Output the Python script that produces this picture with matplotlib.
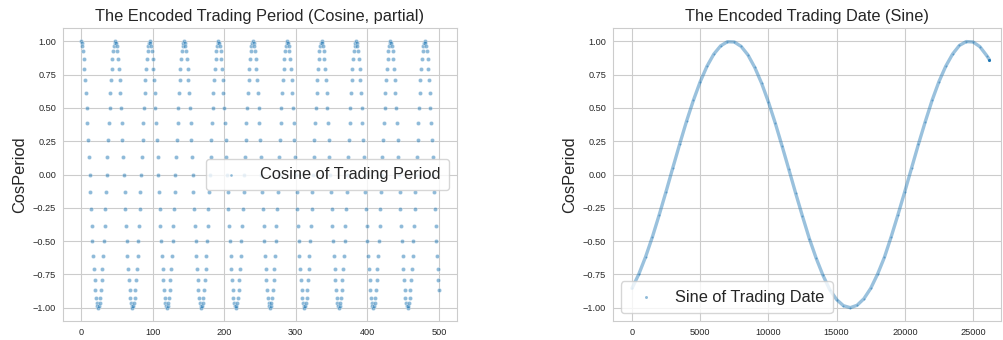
import matplotlib
matplotlib.use('Agg')
import matplotlib.pyplot as plt
import seaborn as sns

# cosine value for each trading period 1..48 (levels)
cosPeriodLevels = [0.991, 0.966, 0.924, 0.866, 0.793, 0.707, 0.609, 0.500,
                   0.383, 0.259, 0.131, 0.000, -0.131, -0.259, -0.383, -0.500,
                   -0.609, -0.707, -0.793, -0.866, -0.924, -0.966, -0.991, -1.000,
                   -0.991, -0.966, -0.924, -0.866, -0.793, -0.707, -0.609, -0.500,
                   -0.383, -0.259, -0.131, 0.000, 0.131, 0.259, 0.383, 0.500,
                   0.609, 0.707, 0.793, 0.866, 0.924, 0.966, 0.991, 1.000]
nRowsPartial = 501

# sine of trading date, read along the curve of the right panel
dateIndex = [0, 500, 1000, 1500, 2000, 2500, 3000, 3500, 4000, 4500, 5000, 5500,
             6000, 6500, 7000, 7500, 8000, 8500, 9000, 9500, 10000, 10500, 11000,
             11500, 12000, 12500, 13000, 13500, 14000, 14500, 15000, 15500, 16000,
             16500, 17000, 17500, 18000, 18500, 19000, 19500, 20000, 20500, 21000,
             21500, 22000, 22500, 23000, 23500, 24000, 24500, 25000, 25500, 26000, 26200]
sinDate = [-0.855, -0.749, -0.618, -0.468, -0.302, -0.128, 0.052, 0.229, 0.400,
           0.556, 0.696, 0.813, 0.904, 0.966, 0.997, 0.995, 0.962, 0.898, 0.804,
           0.686, 0.545, 0.387, 0.215, 0.038, -0.141, -0.314, -0.481, -0.628,
           -0.757, -0.865, -0.939, -0.985, -1.000, -0.982, -0.933, -0.855, -0.749,
           -0.623, -0.468, -0.301, -0.128, 0.050, 0.228, 0.397, 0.557, 0.697,
           0.813, 0.904, 0.969, 0.998, 0.995, 0.960, 0.893, 0.862]

W, H = 1004, 340
blue = '#1f77b4'


def setupAxes(ax, title):
    ax.set_title(title, fontsize=11.8, color='.15', pad=5)
    ax.set_ylabel('CosPeriod', fontsize=11.8, color='.15')
    ax.tick_params(labelsize=6.6, colors='.15', length=0, pad=5)
    ax.set_ylim(-1.1, 1.1)
    ax.set_yticks([-1.0, -0.75, -0.5, -0.25, 0.0, 0.25, 0.5, 0.75, 1.0])
    ax.set_yticklabels(['−1.00', '−0.75', '−0.50', '−0.25', '0.00', '0.25', '0.50', '0.75', '1.00'])
    for s in ax.spines.values():
        s.set_color('.8')


def main():
    sns.set_style('whitegrid')
    plt.rcParams['font.family'] = ['Liberation Sans', 'DejaVu Sans']
    plt.rcParams['axes.unicode_minus'] = True

    fig = plt.figure(figsize=(W / 100, H / 100), dpi=100)
    axL = fig.add_axes([63 / W, 1 - 321 / H, (457 - 63) / W, (321 - 28) / H])
    axR = fig.add_axes([613 / W, 1 - 321 / H, (1001 - 613) / W, (321 - 28) / H])

    # left: cosine of trading period, first rows only
    rowIdx = list(range(nRowsPartial))
    periods = [(i % 48) or 48 for i in rowIdx]
    cosVals = [cosPeriodLevels[p - 1] for p in periods]
    axL.scatter(rowIdx, cosVals, s=9, color=blue, alpha=0.5, edgecolor='white',
                linewidth=0.4, label='Cosine of Trading Period', zorder=3)
    setupAxes(axL, 'The Encoded Trading Period (Cosine, partial)')
    axL.set_xlim(-25, 525)
    axL.set_xticks([0, 100, 200, 300, 400, 500])
    axL.legend(loc='center right', fontsize=11.8, scatterpoints=1, markerscale=0.7,
               borderpad=0.5, labelcolor='.15')

    # right: sine of trading date
    axR.plot(dateIndex, sinDate, color=blue, alpha=0.45, lw=2.4, zorder=3,
             solid_capstyle='round')
    axR.scatter(dateIndex, sinDate, s=2, color=blue, alpha=0.5, lw=0,
                label='Sine of Trading Date', zorder=4)
    axR.scatter(dateIndex[-1:], sinDate[-1:], s=5, color=blue, lw=0, zorder=5)
    setupAxes(axR, 'The Encoded Trading Date (Sine)')
    axR.set_xlim(-1390, 27050)
    axR.set_xticks([0, 5000, 10000, 15000, 20000, 25000])
    axR.legend(loc='lower left', fontsize=11.8, scatterpoints=1, markerscale=1.5,
               borderpad=0.5, labelcolor='.15')

    fig.savefig('out.png', dpi=100)


main()
